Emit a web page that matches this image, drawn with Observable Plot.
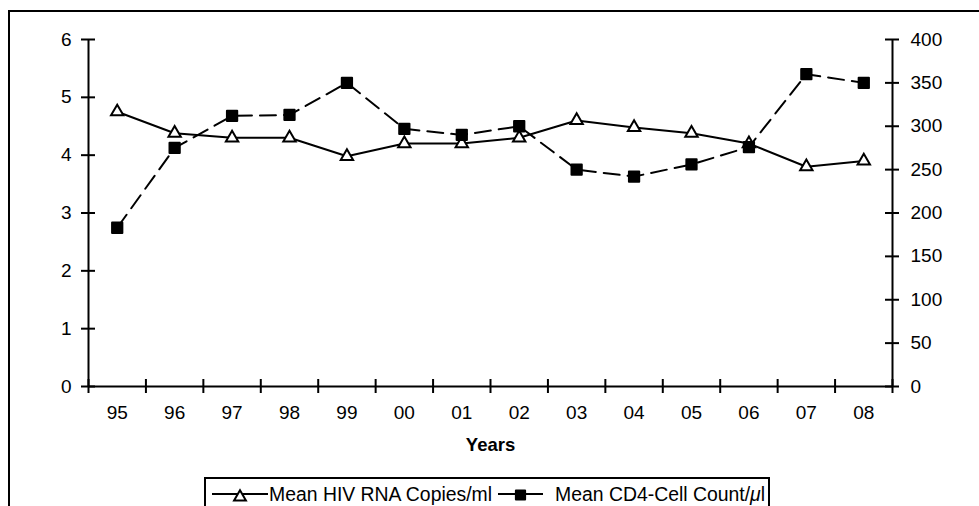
<!DOCTYPE html>
<html>
<head>
<meta charset="utf-8">
<script src="https://cdn.jsdelivr.net/npm/d3@7"></script>
<script src="https://cdn.jsdelivr.net/npm/@observablehq/plot@0.6"></script>
<style>
  html, body { margin: 0; padding: 0; background: #fff; }
  #wrap { position: relative; width: 979px; height: 506px; overflow: hidden; background: #fff;
          font-family: "Liberation Sans", Arial, sans-serif; color: #000; }
  #frame { position: absolute; left: 8px; top: 10px; width: 1100px; height: 800px;
           border: 2px solid #000; box-sizing: border-box; }
  #chart { position: absolute; left: 0; top: 0; }
  #legend { position: absolute; left: 204px; top: 477px; width: 566px; height: 60px;
            border: 2px solid #000; box-sizing: border-box; background: #fff; }
  .item { position: absolute; top: 2px; height: 26px; display: flex; align-items: center;
          font-size: 19.4px; white-space: nowrap; }
  .item svg { display: block; }
</style>
</head>
<body>
<div id="wrap">
  <div id="frame"></div>
  <div id="chart"></div>
  <div id="legend">
    <div class="item" id="item1" style="left:6px"></div>
    <div class="item" id="item2" style="left:292px"></div>
  </div>
</div>
<script>
const years = ["95","96","97","98","99","00","01","02","03","04","05","06","07","08"];
const hivRna = [4.75, 4.38, 4.3, 4.3, 3.98, 4.2, 4.2, 4.3, 4.6, 4.48, 4.38, 4.2, 3.8, 3.9];
const cd4Count = [183, 275, 312, 313, 350, 297, 290, 300, 250, 242, 256, 276, 360, 350];
const leftTicks = [0, 1, 2, 3, 4, 5, 6];
const rightTicks = [0, 50, 100, 150, 200, 250, 300, 350, 400];
const seriesNames = ["Mean HIV RNA Copies/ml", "Mean CD4-Cell Count/"];

const k = 6 / 400; // right axis (0-400) mapped onto left axis (0-6)
const data = years.map((year, i) => ({i, year, hiv: hivRna[i], cd4: cd4Count[i] * k}));
const bounds = d3.range(years.length + 1).map(j => j - 0.5);
const xMin = -0.5, xMax = years.length - 0.5;
const tx = 0.122, ty = 0.121; // half-length of cross ticks in data units
const fs = 19;

const chart = Plot.plot({
  width: 979,
  height: 470,
  marginLeft: 88,
  marginRight: 87,
  marginTop: 39,
  marginBottom: 84,
  style: {fontSize: fs + "px", fontFamily: "Liberation Sans, Arial, sans-serif", color: "#000", background: "transparent"},
  x: {type: "linear", domain: [xMin, xMax]},
  y: {type: "linear", domain: [0, 6]},
  marks: [
    Plot.ruleX([xMin, xMax], {y1: 0, y2: 6, stroke: "#000", strokeWidth: 2}),
    Plot.ruleY([0], {x1: xMin, x2: xMax, stroke: "#000", strokeWidth: 2}),
    Plot.ruleX(bounds, {y1: -ty, y2: ty, stroke: "#000", strokeWidth: 2}),
    Plot.ruleY(leftTicks, {x1: xMin - tx, x2: xMin + tx, stroke: "#000", strokeWidth: 2}),
    Plot.ruleY(rightTicks.map(v => v * k), {x1: xMax - tx, x2: xMax + tx, stroke: "#000", strokeWidth: 2}),
    Plot.axisY({anchor: "left", ticks: leftTicks, tickFormat: v => String(v), tickSize: 0, tickPadding: 17, label: null, fontSize: fs}),
    Plot.axisY({anchor: "right", ticks: rightTicks.map(v => v * k), tickFormat: v => String(Math.round(v / k)), tickSize: 0, tickPadding: 18, label: null, fontSize: fs}),
    Plot.axisX({ticks: d3.range(years.length), tickFormat: i => years[i], tickSize: 0, tickPadding: 19, label: null, fontSize: fs}),
    Plot.text(["Years"], {frameAnchor: "bottom", dy: 59, fontWeight: "bold", fontSize: 18.5, text: d => d, lineAnchor: "middle"}),
    Plot.line(data, {x: "i", y: "cd4", stroke: "#000", strokeWidth: 2, strokeDasharray: "16,8"}),
    Plot.line(data, {x: "i", y: "hiv", stroke: "#000", strokeWidth: 2}),
    Plot.dot(data, {x: "i", y: "hiv", symbol: "triangle", r: 4.6, stroke: "#000", strokeWidth: 2, fill: "#fff"}),
    Plot.dot(data, {x: "i", y: "cd4", symbol: "square", r: 5.8, stroke: "#000", strokeWidth: 2, strokeLinejoin: "round", fill: "#000"})
  ]
});
document.getElementById("chart").appendChild(chart);

// Legend swatches
function swatch(width, kind) {
  const ns = "http://www.w3.org/2000/svg";
  const s = document.createElementNS(ns, "svg");
  s.setAttribute("width", width); s.setAttribute("height", 26);
  const line = document.createElementNS(ns, "line");
  line.setAttribute("x1", 0); line.setAttribute("x2", width);
  line.setAttribute("y1", 13); line.setAttribute("y2", 13);
  line.setAttribute("stroke", "#000"); line.setAttribute("stroke-width", 2);
  s.appendChild(line);
  const p = document.createElementNS(ns, "path");
  if (kind === "triangle") {
    p.setAttribute("d", d3.symbol(d3.symbolTriangle, Math.PI * 4.4 * 4.4)());
    p.setAttribute("fill", "#fff"); p.setAttribute("stroke-width", 2);
  } else {
    p.setAttribute("d", d3.symbol(d3.symbolSquare, Math.PI * 5.2 * 5.2)());
    p.setAttribute("fill", "#000"); p.setAttribute("stroke-width", 2);
    p.setAttribute("stroke-linejoin", "round");
  }
  p.setAttribute("stroke", "#000");
  p.setAttribute("transform", `translate(${width / 2},${kind === "triangle" ? 16 : 14})`);
  s.appendChild(p);
  return s;
}
const i1 = document.getElementById("item1");
i1.appendChild(swatch(56, "triangle"));
const t1 = document.createElement("span"); t1.textContent = seriesNames[0]; t1.style.marginLeft = "1px";
i1.appendChild(t1);
const i2 = document.getElementById("item2");
i2.appendChild(swatch(45, "square"));
const t2 = document.createElement("span"); t2.style.marginLeft = "12px";
t2.textContent = seriesNames[1];
const mu = document.createElement("i"); mu.textContent = "μ"; t2.appendChild(mu);
t2.appendChild(document.createTextNode("l"));
i2.appendChild(t2);
</script>
</body>
</html>
